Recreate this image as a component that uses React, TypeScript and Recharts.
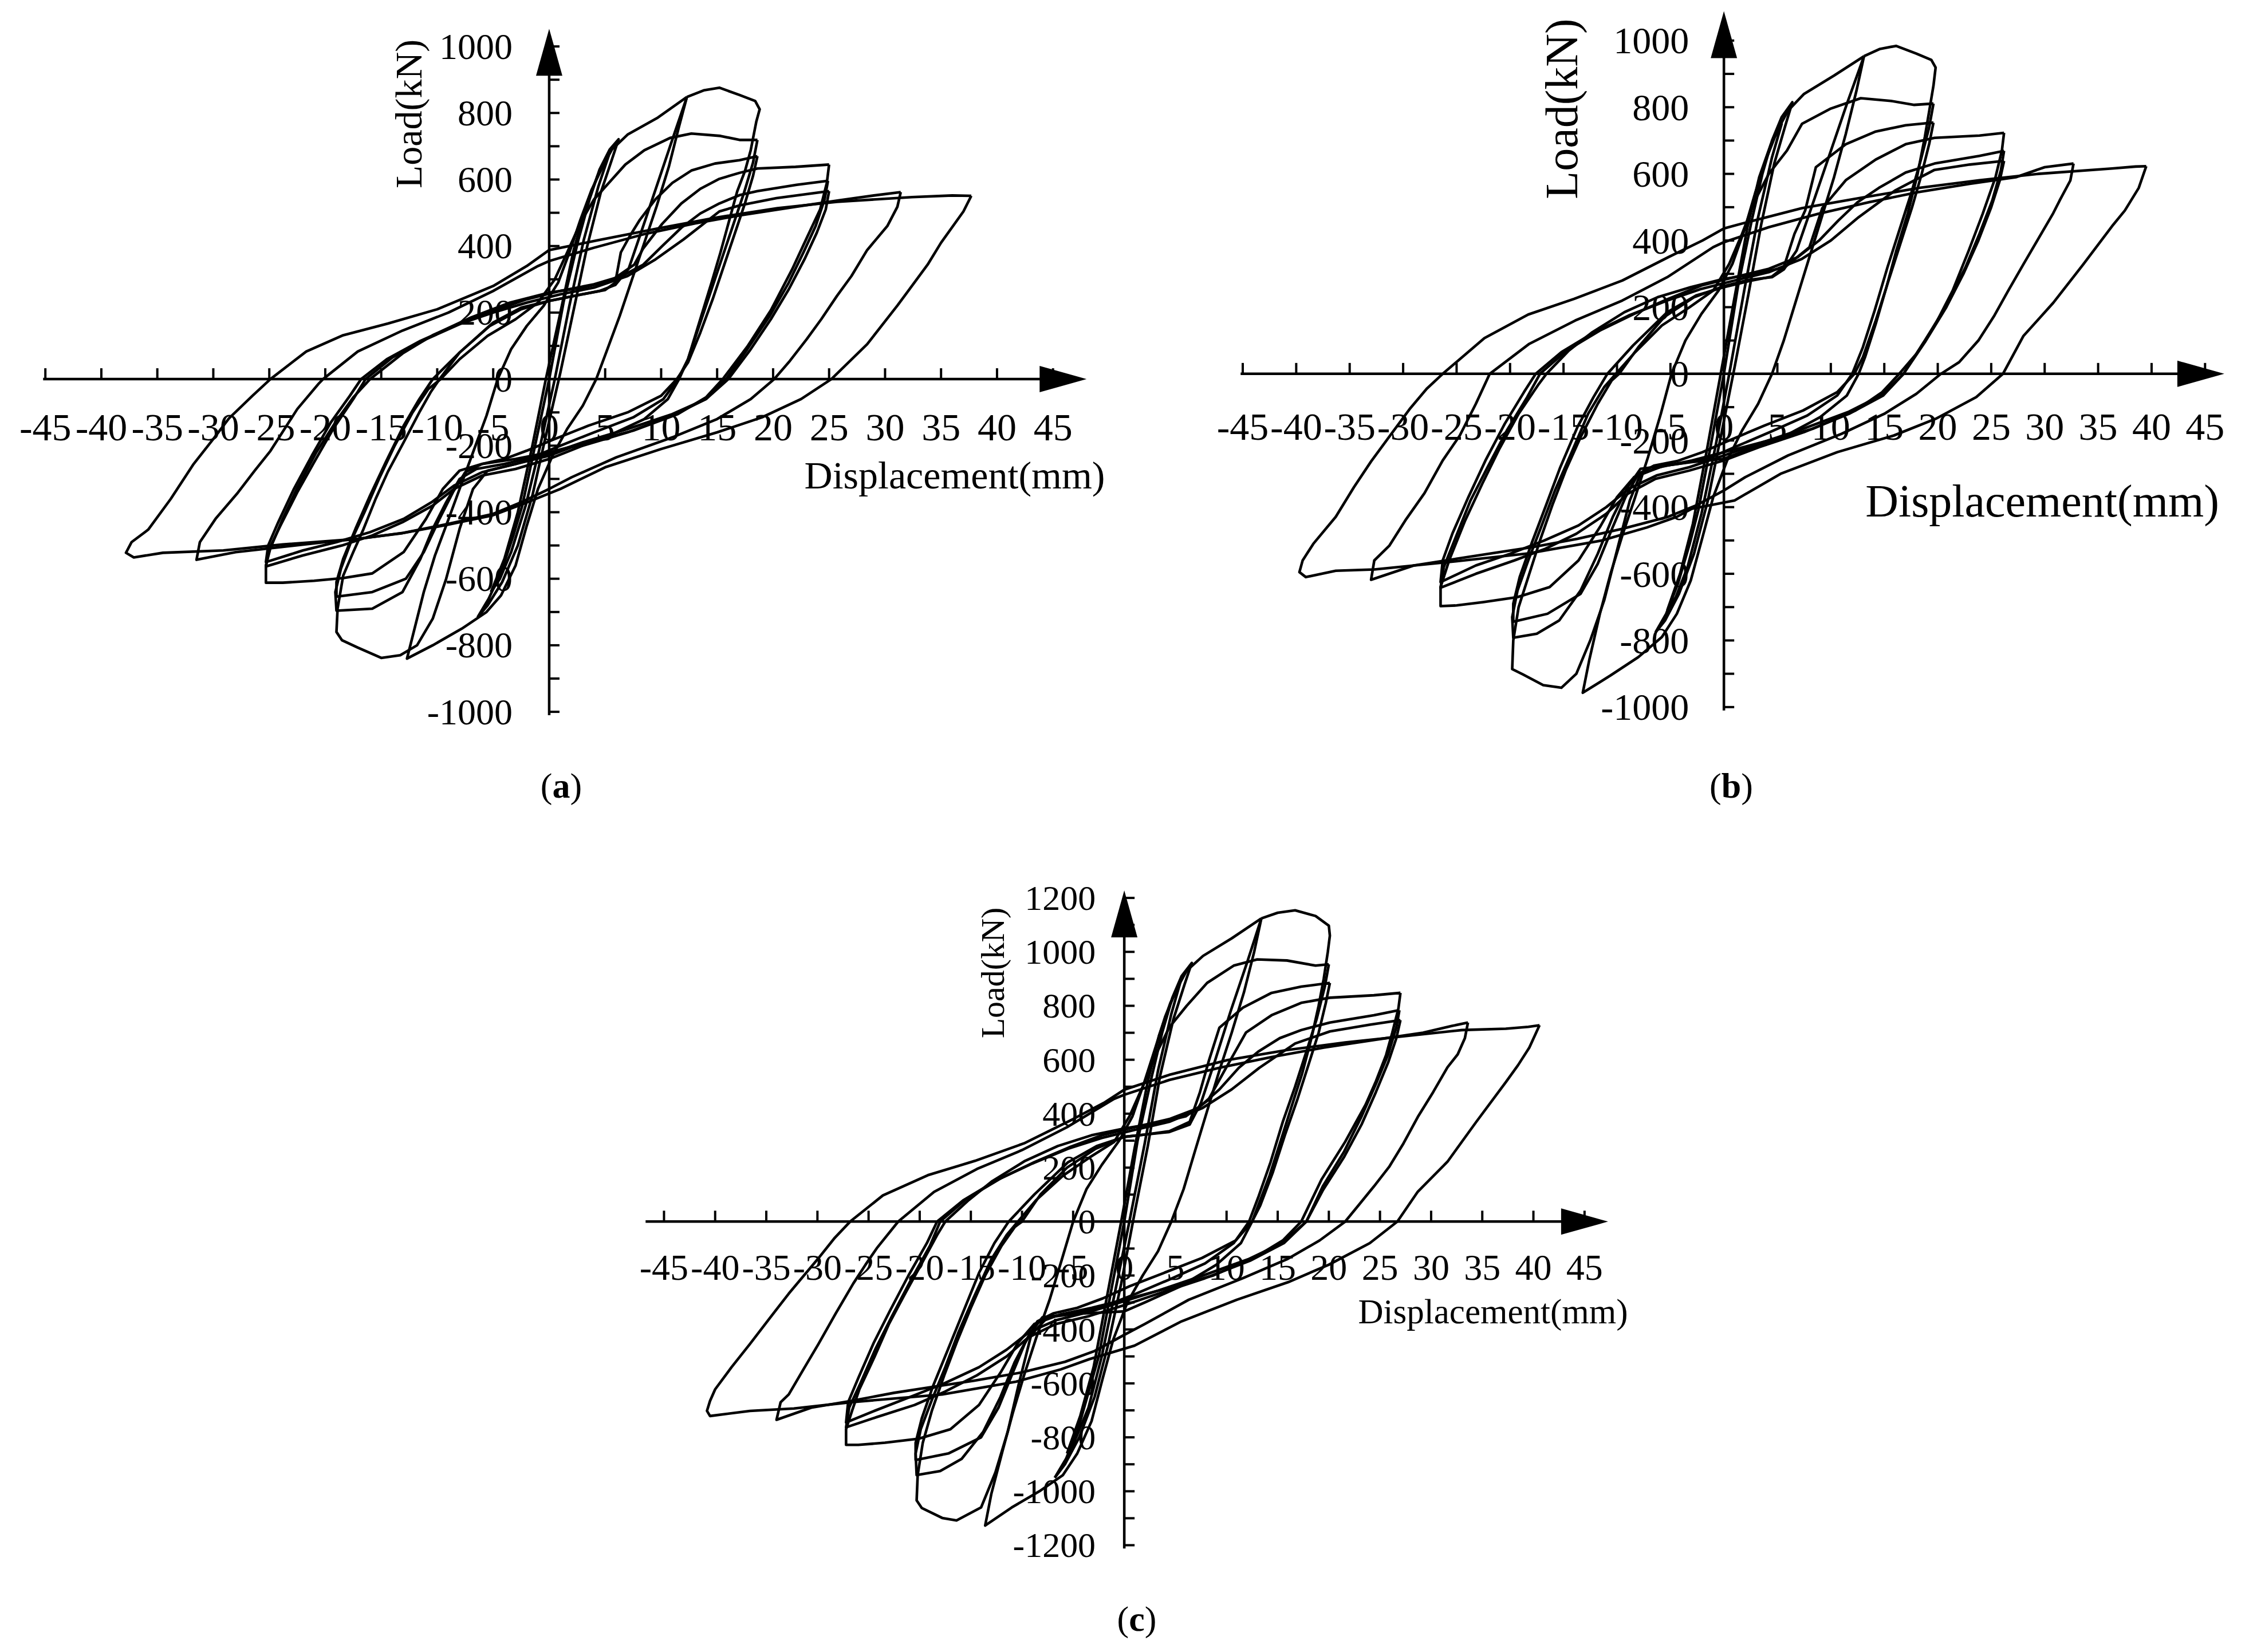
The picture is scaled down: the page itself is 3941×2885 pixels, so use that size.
import React from 'react'
import { LineChart, Line, XAxis, YAxis, ReferenceLine, ReferenceDot } from 'recharts'

type Pt = [number, number]

const SERIF = "'Liberation Serif', 'Times New Roman', serif"

// ── axis tick values ────────────────────────────────────────────────────────
const X_TICKS = [-45, -40, -35, -30, -25, -20, -15, -10, -5, 0, 5, 10, 15, 20, 25, 30, 35, 40, 45]
const Y_LABELS_AB = [-1000, -800, -600, -400, -200, 0, 200, 400, 600, 800, 1000]
const Y_MINOR_AB = [-1000, -900, -800, -700, -600, -500, -400, -300, -200, -100, 0, 100, 200, 300, 400, 500, 600, 700, 800, 900, 1000]
const Y_LABELS_C = [-1200, -1000, -800, -600, -400, -200, 0, 200, 400, 600, 800, 1000, 1200]
const Y_MINOR_C = [-1200, -1100, -1000, -900, -800, -700, -600, -500, -400, -300, -200, -100, 0, 100, 200, 300, 400, 500, 600, 700, 800, 900, 1000, 1100, 1200]

// ── (a) hysteresis loops: [displacement mm, load kN] ────────────────────────
const A_E1: Pt[] = [[-6.4,-716],[-5.4,-660],[-4.3,-580],[-3.2,-470],[-2.4,-380],[-1.2,-190],[0,0],[1.3,234],[2.6,418],[3.6,540],[4.5,630],[5.4,690],[6.2,721],[5.6,660],[4.6,560],[3.4,400],[2.2,210],[1,20],[-0.3,-170],[-1.5,-350],[-2.8,-500],[-4.2,-610],[-5.5,-680],[-6.4,-716]]
const A_E2: Pt[] = [[-5.2,-640],[-4,-540],[-2.8,-400],[-1.5,-200],[-0.3,0],[1,200],[2.2,390],[3.3,520],[4.3,610],[5.3,670],[4.4,580],[3.1,420],[1.8,220],[0.5,0],[-0.8,-200],[-2.1,-380],[-3.4,-520],[-4.4,-600],[-5.2,-640]]
const A_12: Pt[] = [[12.3,848],[11.6,760],[10.7,640],[9.6,520],[8.5,410],[7.4,300],[6.3,190],[5.2,90],[4.2,0],[3,-80],[1.6,-150],[0.3,-230],[-1,-330],[-2,-440],[-3,-560],[-4.3,-650],[-5.6,-700],[-7.8,-750],[-10.4,-800],[-12.7,-840],[-12.1,-760],[-11.2,-640],[-10.2,-530],[-9.1,-431],[-8,-330],[-6.8,-220],[-5.6,-110],[-4.6,0],[-3.4,90],[-2,160],[-0.5,220],[0.8,290],[1.8,380],[2.8,480],[3.8,570],[4.8,640],[5.6,690],[7,735],[9.7,786],[12.3,848]]
const A_18_1: Pt[] = [[12.3,848],[13.8,868],[15.2,876],[17,854],[18.4,836],[18.8,811],[18.5,774],[18,688],[17.5,627],[16.8,565],[16.3,504],[15.3,381],[14.5,290],[13.4,170],[12.4,60],[11.6,0],[10.6,-60],[8.5,-120],[5,-175],[2,-205],[0,-230],[-3,-255],[-5.5,-275],[-6.8,-330],[-8,-450],[-9.2,-600],[-10.4,-720],[-11.8,-800],[-13.3,-830],[-15,-838],[-17.1,-807],[-18.5,-785],[-19,-760],[-18.9,-690],[-18.4,-591],[-17.5,-520],[-16.6,-452],[-15.5,-360],[-14.4,-278],[-13,-190],[-11.6,-100],[-10.6,-40],[-9.8,0],[-8,80],[-5.3,160],[-2.5,210],[0,235],[2.5,252],[4.5,265],[5.9,283],[7.1,332],[8.5,470],[9.9,610],[11.2,740],[12.3,848]]
const A_18_2: Pt[] = [[18.6,719],[18.2,650],[17.4,560],[16.5,470],[15.5,370],[14.5,270],[13.4,160],[12.4,60],[11.5,0],[10.2,-60],[7.5,-115],[4,-160],[1,-200],[-1.5,-235],[-4,-255],[-6.5,-270],[-8,-300],[-9.2,-370],[-10.4,-450],[-11.5,-540],[-13.1,-640],[-15.8,-690],[-19,-696],[-19.1,-640],[-18.6,-570],[-17.6,-480],[-16.5,-400],[-15.2,-300],[-13.8,-200],[-12.2,-100],[-10.8,-30],[-9.7,0],[-8,60],[-5.5,130],[-3,180],[-1,230],[0.5,300],[1.6,380],[2.8,470],[4,540],[5.6,600],[6.8,645],[8.5,688],[10.8,725],[12.7,738],[15.3,731],[17,719],[18.6,719]]
const A_18_3: Pt[] = [[18.6,670],[18.2,610],[17.5,530],[16.6,440],[15.6,340],[14.6,240],[13.5,140],[12.4,50],[11.4,0],[10,-50],[7,-100],[3.5,-140],[0.5,-180],[-2,-215],[-4,-240],[-6,-255],[-7.5,-280],[-8.6,-340],[-9.8,-420],[-11.2,-520],[-12.8,-600],[-15.8,-640],[-19,-654],[-19,-610],[-18.4,-540],[-17.3,-450],[-16,-350],[-14.6,-250],[-13,-140],[-11.6,-60],[-10.4,0],[-8,80],[-5,170],[-2.5,215],[0,235],[2.5,252],[5,268],[5.9,290],[6.4,381],[7.2,430],[8.1,479],[9.5,541],[11,590],[12.7,627],[14.8,648],[17,658],[18.6,670]]
const A_25_1: Pt[] = [[25,645],[24.8,590],[24.2,510],[23,424],[21.7,330],[19.8,207],[17.7,98],[15.5,0],[14,-55],[11.5,-105],[7.5,-155],[3.5,-190],[0,-220],[-3,-240],[-6,-255],[-8,-275],[-9.5,-330],[-11,-420],[-13,-520],[-15.8,-584],[-18.4,-598],[-21,-606],[-23.8,-612],[-25.3,-612],[-25.3,-560],[-24.9,-508],[-23.8,-420],[-22.5,-327],[-20.8,-220],[-19,-125],[-17.5,-55],[-16,0],[-13.1,77],[-10.4,132],[-7,185],[-3.5,230],[0,260],[3,275],[5.5,295],[7.6,344],[8.4,393],[10.1,467],[11.8,528],[13.5,572],[15.2,602],[17,620],[18.6,633],[22,638],[25,645]]
const A_25_2: Pt[] = [[24.9,596],[24.6,540],[23.8,460],[22.7,380],[21.4,290],[19.7,190],[17.7,90],[15.8,0],[14,-60],[11,-110],[7,-160],[3,-200],[0,-240],[-3,-270],[-6,-290],[-8.5,-330],[-10.4,-380],[-13.1,-430],[-15.8,-470],[-18.5,-500],[-22,-530],[-25.3,-563],[-25,-510],[-24,-440],[-22.5,-340],[-21,-250],[-19.3,-150],[-17.5,-60],[-16.4,0],[-14,65],[-11,120],[-8,165],[-5,205],[-2,240],[1,265],[4,285],[6.5,310],[8.4,344],[10.1,400],[11.8,455],[13.5,498],[15.2,528],[17,553],[18.6,565],[22.1,584],[24.9,596]]
const A_25_3: Pt[] = [[25,565],[24.7,510],[23.9,440],[22.8,360],[21.4,270],[19.8,180],[17.9,85],[16,0],[14,-60],[11,-105],[7,-150],[3,-190],[0,-225],[-3,-255],[-6,-280],[-8.5,-320],[-10.5,-370],[-13,-420],[-16,-460],[-19,-490],[-22,-515],[-25.3,-550],[-25.1,-500],[-24.2,-430],[-22.8,-330],[-21.2,-230],[-19.5,-130],[-17.8,-50],[-16.8,0],[-14.5,60],[-11.5,115],[-8.5,160],[-5,200],[-2,230],[1,255],[4,275],[7,310],[9.5,360],[12,420],[15.2,504],[17,522],[20.3,544],[25,565]]
const A_31: Pt[] = [[31.4,562],[31.1,518],[30.2,460],[28.4,388],[27,310],[25.7,250],[24.3,180],[23,120],[21.5,55],[20.1,0],[18,-60],[15,-120],[11,-175],[6,-235],[2,-295],[0,-330],[-2.5,-370],[-5,-405],[-9,-435],[-13,-462],[-17,-480],[-20,-490],[-24,-505],[-28,-520],[-31.5,-543],[-31.2,-490],[-29.8,-420],[-27.8,-341],[-26.3,-275],[-24.9,-216],[-22.5,-90],[-20.6,-14],[-20.2,0],[-17.1,83],[-13.1,146],[-9,200],[-5,265],[-1,340],[0,355],[4,395],[8.4,435],[13,468],[17,492],[22,518],[26,538],[29,552],[31.4,562]]
const A_37: Pt[] = [[37.7,551],[37,504],[35,410],[33.8,344],[31.1,221],[28.4,105],[25.2,0],[22.5,-60],[19,-115],[15,-160],[10,-210],[5,-265],[1,-330],[-2.4,-376],[-5.1,-410],[-9.1,-438],[-13.1,-463],[-17.1,-480],[-23.8,-497],[-29.1,-515],[-34.5,-522],[-37.1,-536],[-37.8,-522],[-37.3,-490],[-35.8,-452],[-33.8,-360],[-31.8,-257],[-30,-180],[-28.6,-118],[-26.5,-50],[-24.9,0],[-21.7,83],[-18.4,132],[-14.4,167],[-10,210],[-5,280],[-2,340],[0,388],[4.3,417],[9.7,453],[15,486],[20.4,514],[25.7,533],[32.4,547],[36,552],[37.7,551]]

// ── (b) hysteresis loops ────────────────────────────────────────────────────
const B_E1: Pt[] = [[-6.4,-776],[-5.4,-720],[-4.3,-630],[-3.2,-510],[-2.4,-410],[-1.2,-210],[0,0],[1.3,260],[2.6,460],[3.6,600],[4.5,700],[5.4,770],[6.4,815],[5.7,740],[4.7,630],[3.5,450],[2.3,240],[1,20],[-0.3,-190],[-1.5,-380],[-2.8,-540],[-4.2,-660],[-5.5,-740],[-6.4,-776]]
const B_E2: Pt[] = [[-5.3,-710],[-4.1,-600],[-2.9,-450],[-1.6,-230],[-0.3,0],[1,230],[2.2,440],[3.3,590],[4.4,690],[5.4,750],[4.5,650],[3.2,470],[1.9,250],[0.5,0],[-0.8,-220],[-2.1,-420],[-3.4,-580],[-4.5,-670],[-5.3,-710]]
const B_12: Pt[] = [[13.1,953],[12.4,850],[11.4,720],[10.3,590],[9.1,465],[7.9,340],[6.7,215],[5.6,100],[4.5,0],[3.2,-90],[1.7,-170],[0.3,-260],[-1,-370],[-2,-490],[-3.1,-620],[-4.4,-720],[-5.8,-790],[-8,-850],[-10.6,-905],[-13.2,-957],[-12.6,-860],[-11.6,-720],[-10.6,-600],[-9.5,-485],[-8.3,-370],[-7.1,-250],[-5.9,-120],[-4.9,0],[-3.6,100],[-2.1,180],[-0.5,250],[0.8,330],[1.9,430],[2.9,540],[3.9,640],[5,730],[6,790],[7.5,840],[10.3,895],[13.1,953]]
const B_18_1: Pt[] = [[13.1,953],[14.6,975],[16.1,984],[18,961],[19.4,942],[19.8,919],[19.6,865],[19.2,788],[18.8,712],[18.1,597],[17.2,482],[16.1,367],[15.2,260],[14.2,150],[13.2,50],[12.6,0],[11.5,-65],[9,-130],[5.5,-190],[2,-230],[0,-255],[-3,-265],[-5.5,-275],[-7.8,-300],[-8.8,-380],[-10,-530],[-11.2,-680],[-12.5,-800],[-13.8,-900],[-15.2,-942],[-16.9,-934],[-18.8,-902],[-19.8,-886],[-19.7,-800],[-19.2,-700],[-18.3,-610],[-17.2,-500],[-16,-390],[-14.8,-290],[-13.4,-190],[-11.8,-90],[-10.5,-20],[-9.8,0],[-8,80],[-5.6,170],[-2.8,230],[0,263],[2.3,282],[4.5,290],[5.6,313],[6.8,370],[8.2,500],[9.8,650],[11.5,810],[13.1,953]]
const B_18_2: Pt[] = [[19.6,811],[19.2,740],[18.4,640],[17.5,540],[16.4,430],[15.3,320],[14.1,190],[13,80],[12,0],[10.6,-65],[7.8,-125],[4.3,-175],[1,-220],[-1.5,-255],[-4.4,-271],[-7.8,-285],[-9,-340],[-10.4,-430],[-11.8,-540],[-13.4,-650],[-15.4,-740],[-17.5,-780],[-19.7,-792],[-19.8,-730],[-19.3,-650],[-18.3,-560],[-17.1,-460],[-15.8,-350],[-14.3,-240],[-12.7,-120],[-11.2,-40],[-10.1,0],[-8.3,65],[-5.8,145],[-3.2,200],[-1,250],[0.5,330],[1.7,420],[2.9,520],[4.2,600],[5.9,670],[7.3,750],[10,796],[12.8,827],[15.6,819],[17.8,807],[19.6,811]]
const B_18_3: Pt[] = [[19.6,754],[19.2,690],[18.5,600],[17.6,500],[16.5,390],[15.4,280],[14.2,160],[13,50],[12.2,0],[10.6,-55],[7.4,-110],[3.8,-155],[0.5,-200],[-2,-235],[-4.4,-262],[-6.5,-275],[-8,-300],[-9.2,-370],[-10.4,-460],[-11.8,-570],[-13.4,-660],[-16.5,-720],[-19.7,-744],[-19.7,-690],[-19.1,-610],[-18,-510],[-16.7,-400],[-15.3,-280],[-13.7,-160],[-12.2,-70],[-10.9,0],[-8.5,85],[-5.3,185],[-2.6,235],[0,260],[2.3,278],[4.5,292],[5.6,320],[6.6,420],[7.6,490],[8.6,620],[11.4,689],[14.2,727],[17,746],[19.6,754]]
const B_25_1: Pt[] = [[26.2,723],[26,670],[25.4,590],[24.2,480],[22.9,370],[21.4,250],[19.8,150],[18,60],[16.4,0],[14.8,-55],[12.3,-110],[8.3,-165],[4.2,-200],[0,-235],[-3,-260],[-6,-280],[-8.4,-310],[-10,-370],[-11.6,-460],[-13.6,-560],[-16.3,-640],[-19.3,-670],[-22.5,-685],[-25,-695],[-26.5,-697],[-26.5,-640],[-25.7,-560],[-24.2,-440],[-22.6,-330],[-21,-225],[-19.2,-120],[-17.3,-30],[-16.6,0],[-14.5,70],[-12.3,125],[-9.3,185],[-6.2,230],[-3.1,260],[0,285],[3.1,300],[5.7,320],[8,380],[9.2,497],[11.4,581],[14.2,643],[17,689],[19.7,708],[23.9,715],[26.2,723]]
const B_25_2: Pt[] = [[26.2,669],[25.9,610],[25.1,520],[23.9,420],[22.6,320],[20.9,210],[18.8,100],[16.8,0],[14.9,-65],[11.7,-120],[7.5,-175],[3.3,-220],[0,-260],[-3.2,-290],[-6.4,-315],[-9,-360],[-11,-420],[-13.8,-480],[-16.7,-525],[-19.6,-560],[-23.2,-600],[-26.5,-642],[-26.2,-580],[-25.2,-500],[-23.7,-380],[-22.1,-280],[-20.3,-170],[-18.4,-70],[-17.2,0],[-14.7,70],[-11.6,130],[-8.4,180],[-5.2,225],[-2.1,265],[1,290],[4.2,315],[6.9,350],[8.9,400],[10.7,460],[12.5,515],[14.5,558],[17,604],[19.7,631],[23.9,654],[26.2,669]]
const B_25_3: Pt[] = [[26.2,639],[25.8,580],[25,500],[23.8,400],[22.4,300],[20.8,200],[18.8,95],[16.8,0],[14.7,-65],[11.6,-115],[7.4,-165],[3.2,-210],[0,-245],[-3.2,-280],[-6.3,-305],[-8.9,-345],[-11,-400],[-13.6,-455],[-16.8,-500],[-20,-540],[-23.2,-575],[-26.5,-625],[-26.3,-560],[-25.4,-480],[-23.9,-370],[-22.3,-260],[-20.5,-150],[-18.7,-55],[-17.6,0],[-15.2,65],[-12.1,125],[-8.9,175],[-5.3,220],[-2.1,255],[1,280],[4.2,305],[7.3,345],[10,400],[12.6,470],[16,550],[19.7,612],[23,628],[26.2,639]]
const B_33: Pt[] = [[32.7,631],[32.4,580],[31.4,520],[30.8,482],[29.4,405],[28,328],[26.6,250],[25.3,175],[23.8,100],[22,35],[20.3,0],[18,-60],[15,-120],[11,-180],[6,-245],[2,-310],[0,-350],[-2.6,-395],[-5.3,-430],[-9.5,-465],[-13.7,-495],[-17.9,-520],[-21,-535],[-25,-555],[-29,-575],[-33,-618],[-32.7,-560],[-31.3,-516],[-29.8,-440],[-28,-358],[-26.3,-260],[-24.7,-185],[-23.2,-90],[-21.9,0],[-18.2,90],[-13.9,160],[-9.5,220],[-5.3,290],[-1,380],[0,395],[4.2,440],[8.8,480],[13.6,515],[18.1,545],[23,570],[27.3,590],[30,620],[32.7,631]]
const B_39: Pt[] = [[39.5,623],[38.8,558],[37.5,490],[36.3,443],[33.6,328],[30.8,213],[28,113],[26.1,0],[23.6,-70],[19.8,-135],[15.9,-185],[10.6,-235],[5.3,-300],[1,-380],[-3,-405],[-4.4,-429],[-7.2,-461],[-11.4,-500],[-18.3,-539],[-25.2,-563],[-32.7,-587],[-36.3,-591],[-39.1,-610],[-39.7,-595],[-39.4,-560],[-38.4,-510],[-36.3,-429],[-34.6,-340],[-33,-263],[-31.1,-180],[-29.4,-106],[-27.8,-45],[-26.3,0],[-22.4,107],[-18.3,178],[-14,225],[-9.5,280],[-5.2,350],[-2,400],[0,436],[1.7,451],[7.3,497],[12.8,528],[18.3,558],[23.9,581],[29.4,600],[36.3,616],[38.5,622],[39.5,623]]

// ── (c) hysteresis loops ────────────────────────────────────────────────────
const C_E1: Pt[] = [[-6.8,-950],[-5.7,-880],[-4.6,-780],[-3.4,-620],[-2.5,-500],[-1.3,-260],[0,0],[1.3,300],[2.7,540],[3.7,700],[4.7,830],[5.6,910],[6.6,959],[5.9,880],[4.8,750],[3.5,540],[2.3,280],[1,30],[-0.3,-230],[-1.6,-460],[-2.9,-650],[-4.4,-800],[-5.8,-900],[-6.8,-950]]
const C_E2: Pt[] = [[-5.6,-860],[-4.3,-720],[-3,-540],[-1.7,-280],[-0.3,0],[1,270],[2.3,520],[3.4,690],[4.5,810],[5.5,890],[4.6,770],[3.3,560],[2,290],[0.5,0],[-0.9,-260],[-2.2,-500],[-3.5,-690],[-4.7,-800],[-5.6,-860]]
const C_12: Pt[] = [[13.4,1124],[12.7,1000],[11.7,850],[10.5,700],[9.3,560],[8.1,410],[6.9,260],[5.8,120],[4.6,0],[3.3,-110],[1.8,-200],[0.3,-300],[-1.1,-440],[-2.1,-580],[-3.2,-740],[-4.6,-860],[-6,-940],[-8.3,-1000],[-11,-1060],[-13.6,-1127],[-13,-1010],[-11.9,-850],[-10.9,-710],[-9.8,-570],[-8.6,-430],[-7.3,-290],[-6.1,-140],[-5,0],[-3.7,120],[-2.2,210],[-0.5,300],[0.8,390],[1.9,510],[3,640],[4,760],[5.1,860],[6.1,930],[7.7,985],[10.5,1050],[13.4,1124]]
const C_18_1: Pt[] = [[13.4,1124],[15,1145],[16.7,1154],[18.7,1133],[20,1097],[20.1,1060],[19.9,1000],[19.5,900],[19,800],[18.3,680],[17.4,550],[16.3,420],[15.3,300],[14.2,170],[13.1,60],[12.5,0],[11.4,-80],[9,-160],[5.5,-240],[2,-300],[0,-333],[-2.5,-338],[-4.8,-342],[-7.5,-355],[-9.1,-420],[-10.3,-600],[-11.4,-780],[-12.6,-930],[-14,-1060],[-16.4,-1108],[-17.8,-1099],[-19.8,-1062],[-20.3,-1034],[-20.2,-940],[-19.7,-820],[-18.8,-700],[-17.6,-570],[-16.3,-440],[-15,-320],[-13.6,-200],[-12,-90],[-10.7,-20],[-10,0],[-8.2,100],[-5.6,200],[-2.8,270],[0,314],[2.1,323],[4.4,332],[6.4,360],[7.5,440],[8.9,600],[10.4,780],[12,960],[13.4,1124]]
const C_18_2: Pt[] = [[20,954],[19.6,870],[18.8,750],[17.8,630],[16.7,500],[15.5,370],[14.3,220],[13.1,90],[12.2,0],[10.7,-80],[7.9,-155],[4.4,-215],[1,-270],[-1.7,-310],[-4.8,-340],[-8,-355],[-9.3,-420],[-10.7,-520],[-12.1,-650],[-13.8,-780],[-15.9,-880],[-18,-925],[-20.3,-940],[-20.4,-860],[-19.9,-770],[-18.8,-660],[-17.5,-540],[-16.2,-410],[-14.7,-280],[-13,-140],[-11.5,-50],[-10.4,0],[-8.6,80],[-6,170],[-3.3,240],[-1,295],[0.5,390],[1.8,500],[3.1,620],[4.4,720],[6.1,800],[8.1,885],[10.7,949],[13,972],[15.9,968],[18.7,949],[20,954]]
const C_18_3: Pt[] = [[20.1,885],[19.7,810],[19,700],[18,580],[16.9,450],[15.7,320],[14.5,180],[13.3,60],[12.5,0],[10.9,-70],[7.6,-135],[3.9,-190],[0.5,-240],[-2.1,-285],[-4.6,-320],[-6.9,-340],[-8.5,-370],[-9.7,-450],[-10.9,-560],[-12.3,-690],[-14,-800],[-17.2,-860],[-20.4,-884],[-20.4,-820],[-19.8,-730],[-18.7,-610],[-17.3,-480],[-15.8,-340],[-14.2,-190],[-12.7,-80],[-11.3,0],[-8.8,100],[-5.5,220],[-2.7,280],[0,314],[2.1,323],[4.4,335],[6.4,370],[7.4,480],[8.3,600],[9.3,719],[11.6,793],[14.4,848],[17.3,871],[20.1,885]]
const C_27_1: Pt[] = [[27,848],[26.8,790],[26.2,700],[25.6,618],[24.6,520],[23.6,434],[21.6,296],[19.3,157],[17.3,0],[15.5,-70],[12.9,-130],[8.7,-200],[4.4,-245],[0,-290],[-3.2,-320],[-6.3,-345],[-8.8,-380],[-10.4,-450],[-12.1,-560],[-14.2,-680],[-17,-770],[-20.1,-805],[-23.4,-820],[-26,-828],[-27.2,-828],[-27.2,-770],[-26.6,-700],[-25.9,-622],[-24.4,-500],[-23,-379],[-21.4,-265],[-19.8,-155],[-18.3,-50],[-17.5,0],[-15.2,80],[-12.9,150],[-9.7,225],[-6.5,280],[-3.2,320],[0,345],[3.2,365],[6,390],[8.2,450],[9.8,560],[11.9,701],[14.4,765],[17.3,811],[20.1,830],[24.4,839],[27,848]]
const C_27_2: Pt[] = [[26.9,784],[26.6,720],[25.8,620],[24.6,510],[23.2,390],[21.5,260],[19.4,130],[17.8,0],[15.6,-80],[12.3,-145],[7.9,-210],[3.5,-265],[0,-310],[-3.4,-350],[-6.7,-380],[-9.4,-430],[-11.5,-500],[-14.4,-570],[-17.5,-630],[-20.5,-680],[-24.2,-725],[-27.2,-763],[-26.9,-690],[-25.8,-600],[-24.3,-470],[-22.7,-350],[-20.9,-220],[-19,-90],[-18,0],[-15.4,85],[-12.1,160],[-8.8,220],[-5.4,275],[-2.2,320],[1,350],[4.4,380],[7.2,420],[9.3,490],[11.2,570],[13.1,630],[15.2,680],[17.3,710],[20.1,738],[24.4,765],[26.9,784]]
const C_27_3: Pt[] = [[27,747],[26.6,680],[25.8,590],[24.6,480],[23.2,360],[21.5,240],[19.4,115],[17.8,0],[15.4,-80],[12.1,-140],[7.7,-200],[3.4,-255],[0,-295],[-3.4,-335],[-6.6,-365],[-9.3,-410],[-11.5,-475],[-14.2,-540],[-17.6,-600],[-20.9,-650],[-24.3,-700],[-27.2,-745],[-27,-670],[-26,-580],[-24.5,-450],[-22.9,-330],[-21.1,-200],[-19.3,-80],[-18.3,0],[-15.7,80],[-12.4,155],[-9,215],[-5.5,270],[-2.2,310],[1,340],[4.4,370],[7.6,420],[10.5,490],[13.2,570],[16.7,660],[20.1,705],[24,730],[27,747]]
const C_34: Pt[] = [[33.6,738],[33.3,680],[32.6,620],[31.6,572],[30.2,480],[28.7,388],[27.3,290],[25.9,203],[24.4,130],[23,65],[21.6,0],[19.1,-70],[15.9,-140],[11.6,-210],[6.3,-290],[2,-380],[0,-420],[-2.9,-480],[-5.8,-520],[-10.1,-560],[-14.7,-590],[-19.1,-615],[-22.5,-635],[-26.7,-665],[-30.6,-690],[-34,-735],[-33.6,-670],[-32.8,-641],[-31.4,-550],[-29.9,-454],[-28.2,-340],[-26.5,-230],[-25.3,-160],[-24.2,-99],[-22.1,0],[-18.6,110],[-14.4,195],[-10,265],[-5.6,350],[-1,455],[0,470],[4.4,525],[9.3,570],[14.4,610],[19.5,645],[24.7,675],[29.2,700],[32,725],[33.6,738]]
const C_40: Pt[] = [[40.6,728],[39.6,645],[38.5,580],[37.3,517],[34.4,369],[31.6,222],[28.7,111],[26.7,0],[24,-80],[20,-160],[16,-225],[11,-290],[5.6,-370],[1,-460],[-3.4,-510],[-6.2,-548],[-10.6,-594],[-17.8,-641],[-26.5,-669],[-32.3,-693],[-36.6,-702],[-40.5,-721],[-40.8,-702],[-40.5,-665],[-40,-622],[-38.4,-540],[-36.6,-454],[-34.7,-360],[-32.8,-267],[-29.9,-136],[-28.3,-60],[-26.8,0],[-23.6,97],[-19.2,172],[-14.6,225],[-9.8,290],[-5,380],[-2,440],[0,489],[4.4,544],[10.1,599],[15.9,636],[21.6,664],[27.3,687],[33,710],[37.3,715],[39.5,722],[40.6,728]]

// ── panel layout (page pixels) ──────────────────────────────────────────────
interface PanelCfg {
  id: string
  ox: number; oy: number      // pixel position of the origin
  kx: number; ky: number      // pixels per mm / per kN
  xDom: [number, number]; yDom: [number, number]
  xStart: number; xArrow: number
  yStart: number; yArrow: number
  yLabels: number[]; yMinor: number[]
  font: number; xFont: number; xLabelDy: number; yLabelDx: number
  loops: Pt[][]
}

const PANELS: PanelCfg[] = [
  {
    id: 'a', ox: 959, oy: 662, kx: 19.55, ky: 0.581,
    xDom: [-49, 50], yDom: [-1100, 1100],
    xStart: -45.2, xArrow: 48, yStart: -1010, yArrow: 1053,
    yLabels: Y_LABELS_AB, yMinor: Y_MINOR_AB,
    font: 64, xFont: 68, xLabelDy: 84, yLabelDx: 64,
    loops: [A_E1, A_E2, A_12, A_18_1, A_18_2, A_18_3, A_25_1, A_25_2, A_25_3, A_31, A_37],
  },
  {
    id: 'b', ox: 3010, oy: 653, kx: 18.67, ky: 0.582,
    xDom: [-48, 49], yDom: [-1100, 1120],
    xStart: -45.2, xArrow: 46.8, yStart: -1010, yArrow: 1088,
    yLabels: Y_LABELS_AB, yMinor: Y_MINOR_AB,
    font: 66, xFont: 68, xLabelDy: 92, yLabelDx: 61,
    loops: [B_E1, B_E2, B_12, B_18_1, B_18_2, B_18_3, B_25_1, B_25_2, B_25_3, B_33, B_39],
  },
  {
    id: 'c', ox: 1963, oy: 2133, kx: 17.86, ky: 0.471,
    xDom: [-49, 49], yDom: [-1300, 1300],
    xStart: -46.8, xArrow: 47.3, yStart: -1212, yArrow: 1228,
    yLabels: Y_LABELS_C, yMinor: Y_MINOR_C,
    font: 62, xFont: 64, xLabelDy: 80, yLabelDx: 50,
    loops: [C_E1, C_E2, C_12, C_18_1, C_18_2, C_18_3, C_27_1, C_27_2, C_27_3, C_34, C_40],
  },
]

const TITLES = [
  { text: 'Displacement(mm)', x: 1667, y: 830, size: 68, rotate: false },
  { text: 'Load(kN)', x: 714, y: 199, size: 66, rotate: true },
  { text: 'Displacement(mm)', x: 3566, y: 875, size: 80, rotate: false },
  { text: 'Load(kN)', x: 2727, y: 190, size: 80, rotate: true },
  { text: 'Displacement(mm)', x: 2607, y: 2290, size: 61, rotate: false },
  { text: 'Load(kN)', x: 1734, y: 1699, size: 58, rotate: true },
]

const CAPTIONS = [
  { letter: 'a', x: 980, y: 1372 },
  { letter: 'b', x: 3023, y: 1372 },
  { letter: 'c', x: 1985, y: 2827 },
]

const ARROW_LEN = 82
const ARROW_HALF = 23

function Panel({ p }: { p: PanelCfg }) {
  const left = p.ox + p.xDom[0] * p.kx
  const top = p.oy - p.yDom[1] * p.ky
  const width = (p.xDom[1] - p.xDom[0]) * p.kx
  const height = (p.yDom[1] - p.yDom[0]) * p.ky

  return (
    <div style={{ position: 'absolute', left, top, width, height }}>
      <LineChart width={width} height={height} margin={{ top: 0, right: 0, bottom: 0, left: 0 }}>
        <XAxis type="number" dataKey="x" domain={p.xDom} hide allowDataOverflow />
        <YAxis type="number" domain={p.yDom} hide allowDataOverflow />

        {/* axis lines */}
        <ReferenceLine
          segment={[{ x: p.xStart, y: 0 }, { x: p.xArrow - 40 / p.kx, y: 0 }]}
          stroke="#000" strokeWidth={4.5}
        />
        <ReferenceLine
          segment={[{ x: 0, y: p.yStart }, { x: 0, y: p.yArrow - 40 / p.ky }]}
          stroke="#000" strokeWidth={4.5}
        />

        {/* arrow heads */}
        <ReferenceDot
          x={p.xArrow} y={0} r={0}
          shape={(s: any) => (
            <polygon
              points={`${s.cx},${s.cy} ${s.cx - ARROW_LEN},${s.cy - ARROW_HALF} ${s.cx - ARROW_LEN},${s.cy + ARROW_HALF}`}
              fill="#000"
            />
          )}
        />
        <ReferenceDot
          x={0} y={p.yArrow} r={0}
          shape={(s: any) => (
            <polygon
              points={`${s.cx},${s.cy} ${s.cx - ARROW_HALF},${s.cy + ARROW_LEN} ${s.cx + ARROW_HALF},${s.cy + ARROW_LEN}`}
              fill="#000"
            />
          )}
        />

        {/* x ticks + labels */}
        {X_TICKS.map(t => (
          <ReferenceDot
            key={`xt${t}`} x={t} y={0} r={0}
            shape={(s: any) => (
              <g>
                <line x1={s.cx} y1={s.cy} x2={s.cx} y2={s.cy - 19} stroke="#000" strokeWidth={4} />
                <text
                  x={s.cx} y={s.cy + p.xLabelDy} textAnchor="middle" dominantBaseline="central"
                  fontFamily={SERIF} fontSize={p.xFont} fill="#000"
                >
                  {t}
                </text>
              </g>
            )}
          />
        ))}

        {/* y minor ticks */}
        {p.yMinor.map(v => (
          <ReferenceDot
            key={`ym${v}`} x={0} y={v} r={0}
            shape={(s: any) => (
              <line x1={s.cx} y1={s.cy} x2={s.cx + 18} y2={s.cy} stroke="#000" strokeWidth={4} />
            )}
          />
        ))}

        {/* y labels */}
        {p.yLabels.map(v => (
          <ReferenceDot
            key={`yl${v}`} x={0} y={v} r={0}
            shape={(s: any) => (
              <text
                x={s.cx - p.yLabelDx} y={s.cy} textAnchor="end" dominantBaseline="central"
                fontFamily={SERIF} fontSize={p.font} fill="#000"
              >
                {v}
              </text>
            )}
          />
        ))}

        {/* hysteresis loops */}
        {p.loops.map((loop, i) => (
          <Line
            key={`${p.id}-loop-${i}`}
            data={loop.map(([x, y]) => ({ x, y }))}
            dataKey="y"
            type="linear"
            stroke="#000"
            strokeWidth={4.6}
            strokeLinejoin="round"
            dot={false}
            activeDot={false}
            isAnimationActive={false}
          />
        ))}
      </LineChart>
    </div>
  )
}

export default function App() {
  return (
    <div style={{
      position: 'absolute', left: 0, top: 0, width: 3941, height: 2885,
      background: '#fff', fontFamily: SERIF, color: '#000', overflow: 'hidden',
    }}>
      {PANELS.map(p => <Panel key={p.id} p={p} />)}

      {TITLES.map((t, i) => (
        <div key={i} style={{
          position: 'absolute', left: t.x, top: t.y,
          transform: `translate(-50%, -50%)${t.rotate ? ' rotate(-90deg)' : ''}`,
          fontSize: t.size, lineHeight: 1, whiteSpace: 'nowrap',
        }}>
          {t.text}
        </div>
      ))}

      {CAPTIONS.map(c => (
        <div key={c.letter} style={{
          position: 'absolute', left: c.x, top: c.y,
          transform: 'translate(-50%, -50%)',
          fontSize: 62, lineHeight: 1, whiteSpace: 'nowrap',
        }}>
          (<b>{c.letter}</b>)
        </div>
      ))}
    </div>
  )
}
